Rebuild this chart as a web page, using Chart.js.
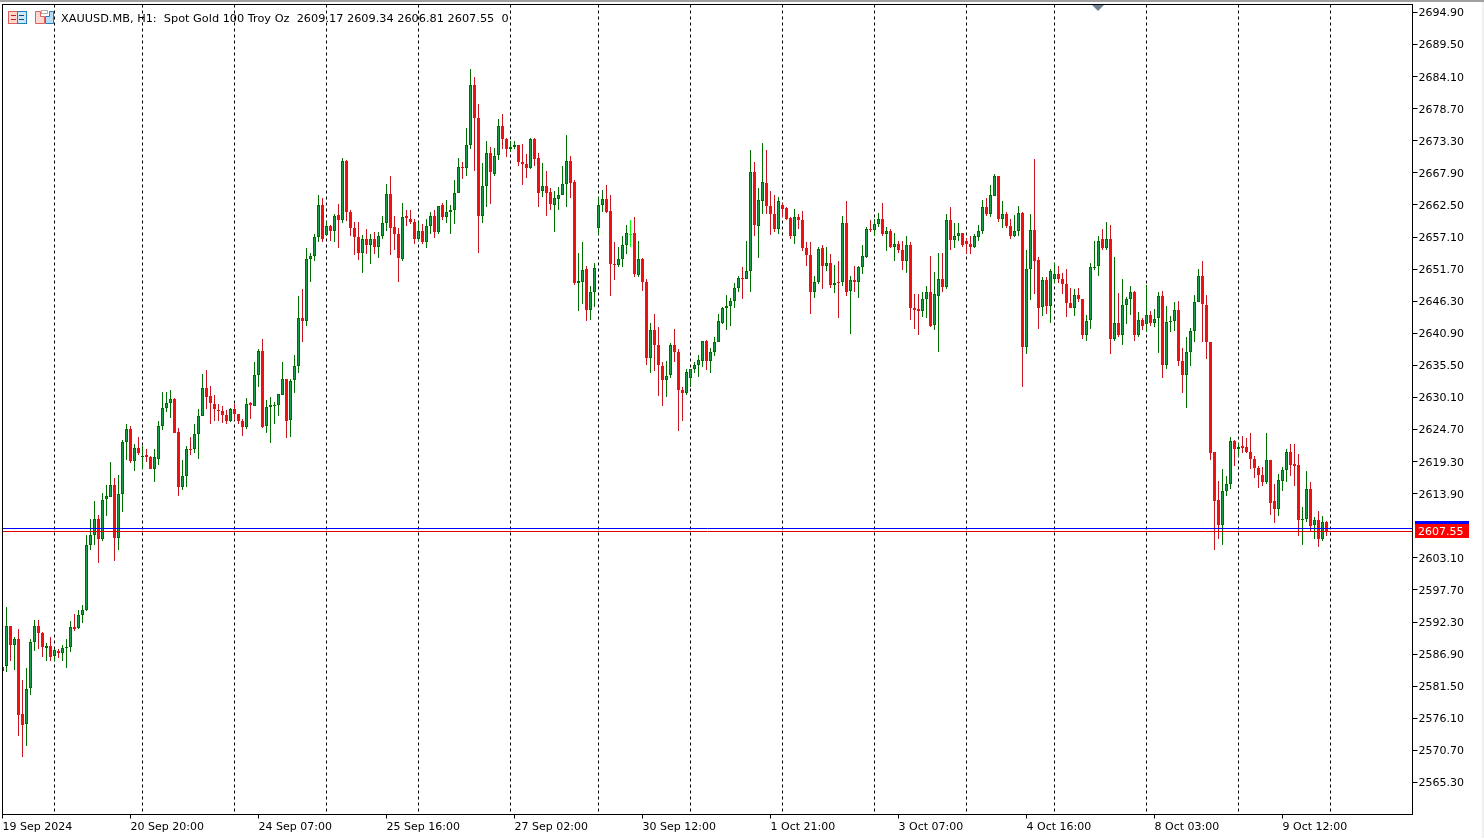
<!DOCTYPE html>
<html>
<head>
<meta charset="utf-8">
<title>XAUUSD.MB H1</title>
<script src="https://cdn.jsdelivr.net/npm/chart.js@4"></script>
<style>
  html, body { margin: 0; padding: 0; background: #fff; overflow: hidden; }
  canvas { display: block; }
</style>
</head>
<body>
<canvas id="chart" width="1484" height="838"></canvas>
<script>
const opens = [
  2584.1,2584.9,2591.7,2588.4,2589.4,2576.8,2575.1,2581.2,2589,2591.7,
  2590.5,2588,2588.3,2586.6,2587.5,2587.1,2587.9,2588.1,2591.5,2591.3,
  2593.5,2594.3,2605.3,2607,2609.7,2606.3,2613,2613.4,2615.4,2606.4,
  2613.9,2622.6,2624.8,2619.4,2621.6,2620.1,2620.5,2620.1,2618,2619.7,
  2625.3,2628.4,2629.2,2629.9,2624.3,2615,2616.8,2621.5,2621.5,2624,
  2627,2631.7,2630.3,2629,2628,2627.9,2627.2,2626.1,2628.2,2627.3,
  2626.2,2625.1,2629.1,2628.7,2633.9,2638,2625.3,2628.5,2628.7,2628.8,
  2630.6,2633.2,2626.3,2633,2635.4,2643.5,2642.9,2653.4,2653.9,2657.1,
  2662.5,2657.5,2659,2658.1,2660.8,2659.9,2669.9,2661.3,2658.6,2657.1,
  2654.5,2656.8,2655.7,2656.8,2655.4,2657.2,2659.5,2664.4,2658.8,2657.6,
  2653.4,2660.6,2660.2,2659.7,2656.7,2658.1,2656.2,2658.9,2660.7,2657.9,
  2662.5,2660.4,2661.3,2661.7,2664.5,2668.9,2668.7,2672.6,2682.7,2677.2,
  2660.6,2665.7,2671.3,2667.8,2670.9,2675.8,2673.6,2671.9,2672.2,2672.6,
  2669.8,2669.4,2668.8,2673.6,2670.4,2664.8,2665.7,2664.7,2662.5,2663.5,
  2664.1,2666,2669.9,2666.3,2649.3,2649.5,2651.7,2644.9,2647.8,2658.6,
  2662.5,2663.5,2661.5,2652.6,2652.4,2653.4,2655.7,2657.5,2657.8,2650.7,
  2653.4,2649.6,2636.7,2641.5,2639,2635.4,2633,2633.8,2639,2637.8,
  2631.4,2630.8,2633.4,2634.9,2635.6,2636.3,2639.6,2636.2,2637.7,2639.4,
  2642.7,2645.1,2645.5,2646.3,2648.5,2650.2,2650,2651.4,2668.1,2658.9,
  2663.1,2666.2,2662.4,2661,2658.4,2662.5,2662,2660.3,2657.2,2660.5,
  2660,2655.3,2654.1,2647.8,2649.6,2655.3,2652.2,2652.7,2649,2649.6,
  2649.5,2659.5,2648,2649.9,2649.5,2652,2653.7,2658.5,2658.3,2659.3,
  2660.1,2657.6,2658.1,2655.5,2655.9,2655,2653.1,2655.8,2645.2,2645,
  2644.6,2646.7,2647.9,2642.3,2647.2,2650.1,2648.7,2660,2656.6,2657.3,
  2657.8,2656.4,2655.9,2655.5,2657.1,2658.1,2662.1,2661,2664,2667.4,
  2660.1,2661,2659,2657.2,2658.2,2661.2,2638.6,2651.8,2658.3,2653.3,
  2645.3,2649.9,2645.5,2650,2650.8,2650.1,2649.2,2646,2645.2,2647.3,
  2646.7,2640.6,2643.2,2651.9,2652.3,2656.7,2655.2,2656.8,2639.9,2642.7,
  2640.6,2645.6,2646.7,2647.9,2640.6,2643.1,2642.5,2644,2642.7,2643.5,
  2647.2,2635.5,2642.8,2642.9,2644.8,2636.2,2633.8,2637.7,2641.3,2646.1,
  2650.5,2645.7,2639.5,2620.9,2612.8,2608.7,2614.3,2615.5,2622.8,2621.4,
  2621.9,2621.8,2620.9,2619.8,2618.3,2617.1,2615.8,2619.6,2612.7,2611.4,
  2616,2617.9,2620.9,2618.9,2618.7,2609.4,2609.6,2614.7,2608.6,2609.5,2606.2,2609.17
];
const highs = [
  2584.8,2594.8,2591.7,2589.7,2591.2,2582.5,2584.5,2589.4,2592.6,2592.6,
  2590.7,2588.8,2589.7,2587.8,2587.7,2588.4,2589.4,2592.4,2593.6,2594.3,
  2595.1,2606.9,2609.7,2612.6,2610.4,2614.1,2615.3,2619.3,2616.5,2617.1,
  2622.9,2625.7,2625.3,2622.2,2623.4,2622,2621.4,2620.3,2621.4,2626.2,
  2631.1,2631.1,2631.3,2630,2624.9,2619.6,2622,2623.5,2625.7,2628.1,
  2634.1,2634.8,2632,2630.6,2629,2628.7,2628,2628.4,2629,2627.4,
  2626.5,2630,2629.3,2636,2638.2,2640,2629.7,2630.1,2629.4,2630.7,
  2636,2633.2,2633.2,2637.2,2647.1,2648.3,2655.2,2654.5,2657.6,2664.2,
  2663.6,2659.8,2659.2,2660.9,2662.7,2670.4,2670.1,2661.6,2659.6,2659.6,
  2657.5,2658.5,2657.7,2658,2658,2660.7,2666.1,2667.4,2660.7,2658.6,
  2662.8,2661.6,2661.6,2660.2,2659.7,2659.3,2660.2,2661.4,2661.6,2662.3,
  2662.8,2663.4,2662.5,2666.7,2670.4,2669.7,2675.5,2685.4,2684.1,2679.5,
  2669.5,2673.2,2672.3,2672.1,2677,2677.8,2673.8,2673.2,2673.2,2672.6,
  2672.7,2671,2673.8,2673.8,2671.3,2669.5,2668.2,2665.4,2664.9,2665.5,
  2669.1,2674.2,2670.8,2666.7,2654.5,2656.2,2652.2,2648.8,2652.8,2663.9,
  2665,2665.9,2664.2,2656.3,2655.5,2657.2,2659.2,2660,2660.5,2656.5,
  2653.6,2650,2642.7,2644.2,2642,2636.1,2636.3,2639.3,2641.7,2638.2,
  2631.8,2634.9,2634.9,2636.1,2637.2,2639.6,2639.8,2638.4,2640.3,2644.2,
  2645.4,2647.4,2646.8,2649.3,2650.5,2652,2656.5,2671.7,2669.8,2665.4,
  2673,2671.7,2664.9,2664.2,2663.8,2662.9,2662.2,2660.4,2661.8,2661,
  2661.5,2656.3,2656.2,2650.6,2655.4,2655.8,2655.5,2654.3,2652.4,2653,
  2660.7,2663.2,2650.6,2652.3,2652.3,2655.8,2658.8,2659.9,2660.1,2661.1,
  2662.9,2658.8,2658.5,2657.8,2656.4,2656.5,2657.3,2656.2,2647.5,2647.6,
  2647.8,2648.9,2653.9,2651.3,2654.4,2654.5,2661,2662.1,2659.5,2659.4,
  2657.8,2657,2657.3,2657.6,2659.1,2663.4,2663.6,2665.8,2667.8,2667.4,
  2663.1,2661.4,2660.2,2660.8,2662.4,2661.4,2655,2661,2670.2,2653.8,
  2650.3,2650.3,2651.8,2652.8,2652.3,2651,2651.8,2648.6,2648.3,2648.6,
  2646.7,2643.9,2652.8,2656.4,2657.2,2658.4,2659.6,2659.2,2653.7,2647.7,
  2650.1,2647,2648.8,2648.1,2644.5,2643.5,2649,2644.7,2645,2647.8,
  2648.1,2645.5,2643.8,2646.2,2646.4,2638.5,2640.2,2641.8,2647.4,2651.8,
  2653,2647.4,2639.5,2620.9,2616.1,2618,2616.9,2623.5,2623,2622.5,
  2623.7,2623.2,2624.2,2620.3,2618.6,2618.4,2624.2,2619.6,2615.6,2617.2,
  2618.4,2621.5,2622.3,2622.2,2620.6,2611.7,2617.8,2615.8,2609.9,2611,2610.2,2609.34
];
const lows = [
  2584.1,2583.9,2585.7,2584.2,2573.1,2569.6,2571.5,2580.1,2587.5,2587.7,
  2586.5,2585.7,2585.7,2585.7,2586.2,2585.8,2584.5,2587.2,2590.8,2591.2,
  2592.2,2594.1,2604.5,2605.2,2602.3,2606,2610.1,2613.3,2602.5,2604.5,
  2610.9,2619.5,2619,2617.7,2620.5,2618,2619.3,2618,2615.8,2618.7,
  2624.6,2627.6,2626.6,2624.2,2613.6,2614.5,2615.1,2620.5,2620.7,2619.8,
  2626.9,2628.1,2625.6,2626.2,2626.1,2625.8,2625.6,2625.9,2626.3,2625.6,
  2623.7,2624.8,2626.5,2628.7,2631.8,2624.9,2624.2,2622.4,2625.7,2626.9,
  2630.5,2623.2,2623.4,2630.8,2634.3,2639.5,2642.2,2649.6,2653.1,2656.2,
  2656.2,2657.3,2656.5,2656.3,2655.3,2659.4,2659.8,2657.3,2654.1,2653.3,
  2651,2654.3,2652.5,2654.2,2653.6,2656.7,2658.2,2654,2655,2649.6,
  2653,2658.9,2659.3,2656,2656.4,2656,2655.2,2657.6,2656.9,2657.6,
  2659.9,2659.5,2657.7,2659.3,2664.5,2666.8,2667.3,2672,2668.3,2654.5,
  2659.5,2662.2,2662.7,2667.4,2670,2672,2670.6,2671.5,2671.9,2669.1,
  2665.9,2667.1,2668.5,2669.1,2662.1,2663.9,2660.7,2661.6,2658,2661.7,
  2664.1,2662.1,2663.7,2649.1,2644.6,2645.9,2642.9,2643.2,2645.4,2657.5,
  2661.4,2661.1,2647.1,2649.9,2652,2652,2654.2,2655.5,2650.4,2650.4,
  2648.1,2635.5,2634.3,2634.6,2630.3,2628.6,2630.1,2633.3,2636.1,2624.5,
  2626.2,2630.6,2631.8,2634.3,2633.6,2635.3,2634.8,2634.3,2637.1,2639.4,
  2642.4,2641.5,2642.2,2645.2,2647.9,2646.6,2650,2647.8,2657.2,2653.6,
  2661,2661,2657.4,2658,2657.7,2660.5,2659.9,2656.7,2656,2658.5,
  2654.8,2652.3,2644.2,2646.9,2649.2,2648.4,2651.4,2648.6,2647.7,2643.5,
  2648.9,2647.2,2640.8,2647.9,2646.9,2650.9,2653.5,2658,2657.3,2658.8,
  2657.2,2654.8,2655.2,2653.1,2654.5,2651.6,2651.1,2643.2,2641.7,2640.7,
  2643.7,2643.4,2642,2641.4,2637.7,2647.8,2648.3,2654.9,2655.2,2656.5,
  2655.5,2654.2,2654.2,2655.2,2656.5,2657.7,2660.6,2660.4,2664,2659.6,
  2658.6,2658.7,2656.7,2657.1,2657.2,2631.8,2637.4,2646.5,2647.6,2641.7,
  2643.8,2644.1,2642.6,2649.4,2649.4,2647.6,2643.6,2645.1,2643.8,2646.1,
  2639.9,2639.6,2641.7,2651.5,2650.5,2655,2654.9,2637.5,2639.6,2640.2,
  2638.9,2642.4,2643.9,2639.6,2640.2,2641.5,2641.2,2642.2,2642,2637.6,
  2633.4,2634.9,2641.2,2641.3,2635.4,2630.9,2628.4,2635.4,2639.5,2646.1,
  2639.5,2636.5,2619.6,2604.5,2606.3,2605.3,2613.6,2614.7,2618.6,2620,
  2620.8,2620.7,2618.1,2616.6,2614.8,2615.2,2615.5,2610.4,2609,2610.2,
  2614.4,2615.8,2616.8,2615.2,2606.7,2605.2,2609.2,2607.5,2606.2,2605,2606,2606.81
];
const closes = [
  2584.8,2591.7,2588.4,2589.4,2576.6,2575,2581.1,2589,2591.7,2590.4,
  2588.1,2588.2,2586.4,2587.6,2587.1,2588,2588.1,2591.5,2591.2,2593.5,
  2594.4,2605.3,2607,2609.7,2606.3,2612.9,2613.6,2615.4,2606.4,2613.9,
  2622.6,2624.8,2619.4,2621.6,2620.8,2620.3,2620.1,2618,2620,2625.3,
  2628.4,2629.2,2629.9,2624.2,2615,2616.8,2621.5,2621.3,2624,2626.9,
  2631.7,2630.1,2629.1,2628.1,2627.8,2627.1,2626.1,2628.2,2627.3,2626.1,
  2625.1,2629,2628.8,2633.9,2638,2625.1,2628.5,2628.8,2628.8,2630.7,
  2633.2,2626.1,2632.9,2635.4,2643.5,2642.9,2653.4,2653.9,2657.1,2662.5,
  2656.7,2659,2658.1,2660.7,2659.9,2669.9,2661.3,2658.7,2657.1,2654.5,
  2656.8,2655.7,2656.8,2655.4,2657.3,2659.5,2664.4,2658.7,2657.6,2653.5,
  2660.5,2660.3,2659.6,2656.7,2658.1,2656.2,2659,2660.7,2657.9,2662.3,
  2660.4,2661.3,2661.7,2664.5,2668.9,2668.7,2672.6,2682.7,2677.1,2660.6,
  2665.7,2671.3,2668,2670.8,2675.8,2673.6,2672,2672.3,2672.6,2669.7,
  2669.4,2668.8,2673.6,2670.2,2664.6,2665.7,2664.6,2662.6,2663.7,2664.2,
  2666,2669.9,2666.2,2649.3,2649.7,2651.6,2644.9,2647.9,2651.9,2662.5,
  2663.5,2661.4,2652.5,2652.5,2653.4,2655.8,2657.8,2657.6,2650.8,2653.4,
  2649.5,2636.7,2641.5,2638.9,2635.5,2633,2633.7,2639,2637.7,2631.3,
  2630.8,2634.4,2634.9,2635.6,2636.4,2639.6,2636.2,2637.8,2639.4,2643,
  2645.2,2645.5,2646.4,2648.5,2650.2,2650,2651.4,2668.1,2659.1,2663.4,
  2666.4,2662.3,2660.9,2658.4,2663.2,2661.9,2660.2,2657.2,2660.5,2660,
  2655.2,2654,2647.8,2649.5,2655.1,2652.2,2652.7,2649,2649.4,2649.4,
  2659.5,2647.8,2649.9,2649.5,2652.1,2653.9,2658.5,2658.4,2659.3,2660.1,
  2657.6,2658.1,2655.5,2655.9,2654.9,2653,2655.8,2645.1,2644.9,2644.6,
  2646.7,2647.9,2642.2,2647.6,2650.1,2648.7,2659.9,2656.6,2657.3,2657.8,
  2655.7,2655.9,2655.5,2657.2,2658.2,2662.1,2660.9,2664.1,2667.3,2660.1,
  2661,2658.9,2657.2,2658.2,2661.2,2638.6,2651.8,2658.3,2653.1,2645.2,
  2649.9,2645.5,2651.4,2650.8,2650,2649.2,2646,2645.2,2647.4,2646.7,
  2640.6,2643,2652,2652.1,2656.5,2655.2,2656.8,2639.9,2642.7,2640.6,
  2645.6,2646.7,2647.9,2640.6,2643.2,2642.2,2644,2642.7,2643.3,2647.2,
  2635.5,2642.8,2643,2644.8,2636.2,2633.8,2637.7,2641.3,2646.2,2650.5,
  2645.8,2639.4,2620.7,2612.7,2608.7,2614.4,2615.5,2622.8,2621.5,2621.8,
  2621.6,2620.9,2619.7,2618.2,2617,2615.8,2619.6,2612.4,2611.4,2616.2,
  2617.9,2620.9,2618.8,2618.6,2609.4,2609.6,2614.7,2608.4,2609.4,2606.2,2609.1,2607.55
];

const priceTicks = [2694.9,2689.5,2684.1,2678.7,2673.3,2667.9,2662.5,2657.1,2651.7,2646.3,2640.9,2635.5,
  2630.1,2624.7,2619.3,2613.9,2603.1,2597.7,2592.3,2586.9,2581.5,2576.1,2570.7,2565.3];
const dateBars = [0,32,64,96,128,160,192,224,256,288,320];
const dateLabels = ["19 Sep 2024","20 Sep 20:00","24 Sep 07:00","25 Sep 16:00","27 Sep 02:00","30 Sep 12:00",
  "1 Oct 21:00","3 Oct 07:00","4 Oct 16:00","8 Oct 03:00","9 Oct 12:00"];
const dayBreakBars = [13,35,58,81,104,127,149,172,195,218,241,263,286,309,332];
const limeBar = 157; // the one bright doji
const bidPrice = 2607.55;
const askPrice = 2607.99;
const headerText = "XAUUSD.MB, H1:  Spot Gold 100 Troy Oz  2609.17 2609.34 2606.81 2607.55  0";

const FONT = "11px 'DejaVu Sans'";
const isUp = (i) => closes[i] >= opens[i];
const wickColor = (i) => i === limeBar ? "#00ff00" : isUp(i) ? "#006f00" : "#c8141e";

// snap bars to whole rows so candles stay crisp like the terminal's
const snapBars = {
  id: "snapBars",
  beforeDatasetsDraw(chart) {
    chart.getSortedVisibleDatasetMetas().forEach((meta) => {
      if (meta.type !== "bar") return;
      meta.data.forEach((el) => {
        const top = Math.round(Math.min(el.y, el.base));
        const bottom = Math.round(Math.max(el.y, el.base));
        el.y = top;
        el.base = Math.max(bottom, top + 1);
      });
    });
  },
};

const terminal = {
  id: "terminal",
  beforeDraw(chart) {
    const ctx = chart.ctx;
    ctx.save();
    ctx.fillStyle = "#a0a0a0";
    ctx.fillRect(0, 0, chart.width, 2);
    ctx.fillStyle = "#f0f0f0";
    ctx.fillRect(chart.width - 2, 2, 2, chart.height - 2);
    ctx.restore();
  },
  afterDatasetsDraw(chart) {
    const { ctx, chartArea: a, scales } = chart;
    ctx.save();
    [[askPrice, "#0000ff"], [bidPrice, "#e00000"]].forEach(([price, color]) => {
      const y = Math.floor(scales.y.getPixelForValue(price)) + 0.5;
      ctx.strokeStyle = color;
      ctx.lineWidth = 1;
      ctx.beginPath();
      ctx.moveTo(a.left, y);
      ctx.lineTo(a.right, y);
      ctx.stroke();
    });
    ctx.restore();
  },
  afterDraw(chart) {
    const { ctx, chartArea: a, scales } = chart;
    ctx.save();
    ctx.strokeStyle = "#000";
    ctx.lineWidth = 1;
    ctx.strokeRect(a.left, a.top, a.right - a.left, a.bottom - a.top);

    // price tag on the axis
    const tagY = Math.floor(scales.y.getPixelForValue(bidPrice));
    ctx.fillStyle = "#0000ff";
    ctx.fillRect(1415, tagY - 10, 54, 3);
    ctx.fillStyle = "#ff0000";
    ctx.fillRect(1415, tagY - 7, 54, 14);
    ctx.fillStyle = "#fff";
    ctx.font = FONT;
    ctx.textBaseline = "middle";
    ctx.textAlign = "left";
    ctx.fillText(bidPrice.toFixed(2), 1418, tagY + 1);

    // header text
    ctx.fillStyle = "#000";
    ctx.font = "11.3px 'DejaVu Sans'";
    ctx.fillText(headerText, 61, 19);

    // chart shift marker
    ctx.fillStyle = "#708090";
    ctx.beginPath();
    ctx.moveTo(1092, 5);
    ctx.lineTo(1104, 5);
    ctx.lineTo(1098, 11);
    ctx.closePath();
    ctx.fill();

    // two toolbar icons
    ctx.lineWidth = 1;
    ctx.fillStyle = "#fcd8d0";
    ctx.fillRect(8, 11, 9, 12);
    ctx.fillStyle = "#cfe6f6";
    ctx.fillRect(17, 11, 9, 12);
    ctx.strokeStyle = "#e0605c";
    ctx.strokeRect(8.5, 11.5, 9, 12);
    ctx.strokeStyle = "#2080c0";
    ctx.strokeRect(17.5, 11.5, 9, 12);
    ctx.strokeStyle = "#c02020";
    ctx.beginPath();
    ctx.moveTo(11, 15.5); ctx.lineTo(16, 15.5);
    ctx.moveTo(11, 19.5); ctx.lineTo(16, 19.5);
    ctx.stroke();
    ctx.strokeStyle = "#104880";
    ctx.beginPath();
    ctx.moveTo(19, 15.5); ctx.lineTo(24, 15.5);
    ctx.moveTo(19, 19.5); ctx.lineTo(24, 19.5);
    ctx.stroke();
    ctx.fillStyle = "#fcd8d0";
    ctx.strokeStyle = "#e0605c";
    ctx.beginPath();
    ctx.moveTo(35.5, 11.5); ctx.lineTo(40.5, 11.5); ctx.lineTo(40.5, 16.5); ctx.lineTo(44.5, 16.5);
    ctx.lineTo(44.5, 23.5); ctx.lineTo(35.5, 23.5); ctx.closePath();
    ctx.fill(); ctx.stroke();
    ctx.fillStyle = "#b8dcf4";
    ctx.strokeStyle = "#2080c0";
    ctx.beginPath();
    ctx.moveTo(45.5, 23.5); ctx.lineTo(45.5, 16.5); ctx.lineTo(49.5, 16.5); ctx.lineTo(49.5, 11.5);
    ctx.lineTo(53.5, 11.5); ctx.lineTo(53.5, 23.5); ctx.closePath();
    ctx.fill(); ctx.stroke();
    ctx.strokeStyle = "#b0b0b0";
    ctx.strokeRect(41.5, 10.5, 6, 3);
    ctx.restore();
  },
};

new Chart(document.getElementById("chart"), {
  type: "bar",
  plugins: [snapBars, terminal],
  data: {
    datasets: [
      {
        label: "wick",
        order: 2,
        grouped: false,
        barThickness: 1,
        inflateAmount: 0,
        borderWidth: 0,
        data: lows.map((low, i) => ({ x: i, y: [low, highs[i]] })),
        backgroundColor: lows.map((_, i) => wickColor(i)),
      },
      {
        label: "body",
        order: 1,
        grouped: false,
        barThickness: 3,
        inflateAmount: 0,
        borderWidth: 1,
        borderSkipped: false,
        data: opens.map((open, i) => ({ x: i, y: [open, closes[i]] })),
        backgroundColor: opens.map((_, i) => i === limeBar ? "#00ff00" : isUp(i) ? "#18a048" : "#f01010"),
        borderColor: opens.map((_, i) => i === limeBar ? "#00ff00" : isUp(i) ? "#006f00" : "#f01010"),
      },
    ],
  },
  options: {
    responsive: false,
    animation: false,
    events: [],
    layout: { autoPadding: false, padding: { left: 2.5, top: 4.5, right: 0, bottom: 0 } },
    plugins: {
      legend: { display: false },
      tooltip: { enabled: false },
    },
    scales: {
      x: {
        type: "linear",
        offset: false,
        min: 0,
        max: 352.5,
        grid: { offset: false, drawOnChartArea: false, color: "#000", tickLength: 4 },
        border: { color: "#000" },
        afterBuildTicks: (scale) => { scale.ticks = dateBars.map((value) => ({ value })); },
        afterFit: (scale) => {
          scale.height = 23.5;
          scale.paddingLeft = 0;
          scale.paddingRight = 0;
        },
        ticks: {
          autoSkip: false,
          maxRotation: 0,
          align: "start",
          padding: 2,
          color: "#000",
          font: { family: "DejaVu Sans", size: 11 },
          callback: (value) => dateLabels[dateBars.indexOf(value)],
        },
      },
      days: {
        type: "linear",
        position: "bottom",
        offset: false,
        min: 0,
        max: 352.5,
        grid: { offset: false, color: "#000", drawTicks: false, tickLength: 0 },
        border: { display: false, dash: [3, 3] },
        afterBuildTicks: (scale) => { scale.ticks = dayBreakBars.map((value) => ({ value })); },
        afterFit: (scale) => {
          scale.height = 0;
          scale.paddingLeft = 0;
          scale.paddingRight = 0;
        },
        ticks: { display: false, autoSkip: false },
      },
      y: {
        position: "right",
        min: 2559.906,
        max: 2696.247,
        grid: { drawOnChartArea: false, color: "#000", tickLength: 5 },
        border: { color: "#000" },
        afterBuildTicks: (scale) => { scale.ticks = priceTicks.map((value) => ({ value })); },
        afterFit: (scale) => {
          scale.width = 71.5;
          scale.paddingTop = 0;
          scale.paddingBottom = 0;
        },
        ticks: {
          autoSkip: false,
          padding: 1,
          labelOffset: 1,
          color: "#000",
          font: { family: "DejaVu Sans", size: 11 },
          callback: (value) => value.toFixed(2),
        },
      },
    },
  },
});
</script>
</body>
</html>
